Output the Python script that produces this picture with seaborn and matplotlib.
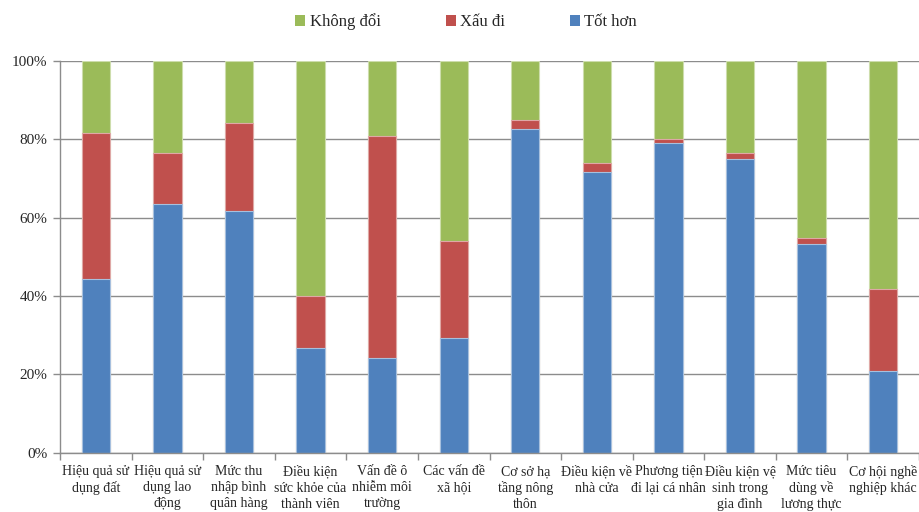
import matplotlib
matplotlib.use("Agg")
import matplotlib.pyplot as plt
from matplotlib.patches import Patch
from matplotlib.ticker import FixedLocator, PercentFormatter
import numpy as np
import pandas as pd
import seaborn as sns

# Survey categories (wrapped labels as printed under each bar)
categories = [
    "Hiệu quả sử\ndụng đất",
    "Hiệu quả sử\ndụng lao\nđộng",
    "Mức thu\nnhập bình\nquân hàng",
    "Điều kiện\nsức khỏe của\nthành viên",
    "Vấn đề ô\nnhiễm môi\ntrường",
    "Các vấn đề\nxã hội",
    "Cơ sở hạ\ntầng nông\nthôn",
    "Điều kiện về\nnhà cửa",
    "Phương tiện\nđi lại cá nhân",
    "Điều kiện vệ\nsinh trong\ngia đình",
    "Mức tiêu\ndùng về\nlương thực",
    "Cơ hội nghề\nnghiệp khác",
]

# Shares of respondents (%)
tot_hon = [44.2, 63.4, 61.6, 26.6, 24.2, 29.2, 82.6, 71.7, 79.1, 75.0, 53.3, 20.8]
xau_di = [37.5, 13.2, 22.6, 13.4, 56.6, 24.9, 2.4, 2.3, 0.9, 1.6, 1.6, 20.9]
khong_doi = [18.3, 23.4, 15.8, 60.0, 19.2, 45.9, 15.0, 26.0, 20.0, 23.4, 45.1, 58.3]

series_colors = {"Tốt hơn": "#4F81BD", "Xấu đi": "#C0504D", "Không đổi": "#9BBB59"}
edge_colors = {"Tốt hơn": "#A7C0DE", "Xấu đi": "#DFA8A6", "Không đổi": "#CDDDAC"}

df = pd.DataFrame({
    "category": categories,
    "Tốt hơn": tot_hon,
    "Xấu đi": xau_di,
    "Không đổi": khong_doi,
})
# cumulative tops for stacking
df["top_blue"] = df["Tốt hơn"]
df["top_red"] = df["Tốt hơn"] + df["Xấu đi"]
df["top_green"] = df["top_red"] + df["Không đổi"]

sns.set_theme(style="white")
plt.rcParams["font.family"] = ["Liberation Serif", "DejaVu Serif"]

fig = plt.figure(figsize=(9.19, 5.12), dpi=100)
ax = fig.add_axes([60 / 919, 59.5 / 512, 859 / 919, 391.5 / 512])

# draw from the top of each stack down so each segment shows its own share
for col, name in [("top_green", "Không đổi"), ("top_red", "Xấu đi"), ("top_blue", "Tốt hơn")]:
    sns.barplot(data=df, x="category", y=col, ax=ax, width=0.395,
                color=series_colors[name], saturation=1,
                edgecolor=edge_colors[name], linewidth=0.8, zorder=3)

ax.set_xlim(-0.5, len(categories) - 0.5)
ax.set_ylim(0, 100)
ax.set_xlabel("")
ax.set_ylabel("")

# y axis: percent ticks with horizontal gridlines
ax.set_yticks(np.arange(0, 101, 20))
ax.yaxis.set_major_formatter(PercentFormatter(decimals=0))
ax.grid(axis="y", color="#8c8c8c", linewidth=1.0, zorder=0)
ax.grid(axis="x", visible=False)
ax.tick_params(axis="y", which="major", direction="out", length=5, width=1,
               color="#8c8c8c", labelsize=11, pad=4, left=True)

# x axis: labels at centres, tick marks at category boundaries
ax.tick_params(axis="x", which="major", length=0, labelsize=10, pad=9)
ax.xaxis.set_minor_locator(FixedLocator(np.arange(-0.5, len(categories), 1.0)))
ax.tick_params(axis="x", which="minor", direction="out", length=5, width=1,
               color="#8c8c8c", bottom=True)
for lbl in ax.get_xticklabels():
    lbl.set_linespacing(1.3)
    lbl.set_ha("center")

for side in ["top", "right"]:
    ax.spines[side].set_visible(False)
for side in ["left", "bottom"]:
    ax.spines[side].set_color("#8c8c8c")
    ax.spines[side].set_linewidth(1.0)
    ax.spines[side].set_zorder(4)

handles = [Patch(facecolor=series_colors[n], edgecolor="none", label=n)
           for n in ["Không đổi", "Xấu đi", "Tốt hơn"]]
fig.legend(handles=handles, loc="center", bbox_to_anchor=(0.507, 1 - 22 / 512),
           ncol=3, frameon=False, fontsize=12, handlelength=0.6, handleheight=0.6,
           handletextpad=0.25, columnspacing=3.9)

fig.savefig("out.png", dpi=100)
